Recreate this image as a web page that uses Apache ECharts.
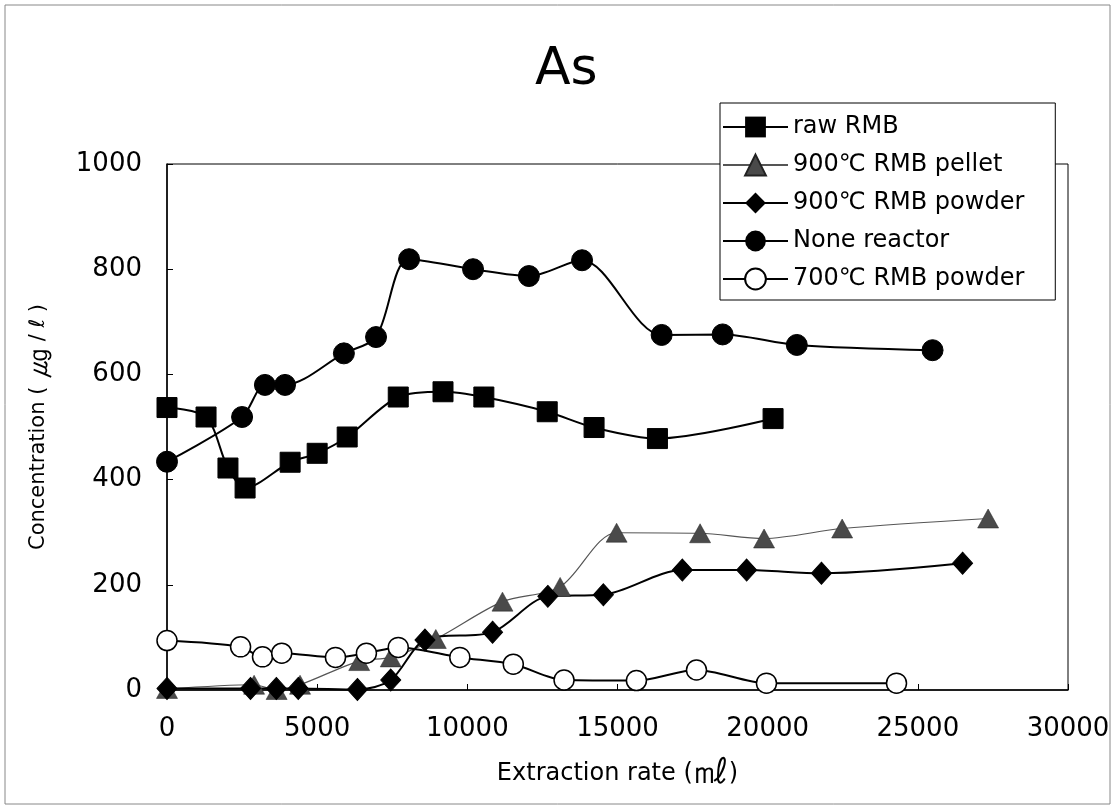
<!DOCTYPE html>
<html>
<head>
<meta charset="utf-8">
<script src="https://cdn.jsdelivr.net/npm/echarts@6/dist/echarts.min.js"></script>
<style>
html,body{margin:0;padding:0;background:#fff;}
#chart{width:1116px;height:809px;}
</style>
</head>
<body>
<div id="chart"></div>
<script>
// ---- Data ----
const seriesNames = ['raw RMB', '900\u2103 RMB pellet', '900\u2103 RMB powder', 'None reactor', '700\u2103 RMB powder'];

const rawRMB_x = [0, 1300, 2030, 2600, 4100, 5000, 6000, 7700, 9190, 10550, 12660, 14220, 16330, 20180];
const rawRMB_y = [537, 519, 422, 384, 433, 450, 481, 557, 567, 557, 529, 499, 478, 516];

const pellet900_x = [0, 2900, 3650, 4430, 6400, 7450, 8950, 11170, 13090, 14970, 17750, 19880, 22480, 27340];
const pellet900_y = [2, 10, 0, 10, 55, 62, 97, 168, 196, 299, 298, 288, 307, 326];

const powder900_x = [0, 2780, 3640, 4370, 6340, 7450, 8590, 10840, 12680, 14530, 17160, 19300, 21790, 26490];
const powder900_y = [3, 3, 3, 3, 1, 19, 95, 110, 178, 181, 228, 228, 222, 241];

const noneReactor_x = [0, 2500, 3260, 3930, 5890, 6960, 8060, 10190, 12050, 13820, 16470, 18500, 20970, 25490];
const noneReactor_y = [434, 519, 580, 580, 640, 671, 819, 800, 787, 817, 675, 676, 656, 646];

const powder700_x = [0, 2450, 3180, 3820, 5610, 6640, 7700, 9750, 11530, 13220, 15630, 17630, 19960, 24290];
const powder700_y = [94, 82, 63, 70, 62, 70, 81, 62, 49, 19, 18, 38, 13, 13];

const xTicks = [0, 5000, 10000, 15000, 20000, 25000, 30000];
const yTicks = [0, 200, 400, 600, 800, 1000];

function pairs(xs, ys) { return xs.map((x, i) => [x, ys[i]]); }

const FONT = 'DejaVu Sans';
const chart = echarts.init(document.getElementById('chart'), null, {renderer: 'canvas'});

const option = {
  backgroundColor: '#fff',
  animation: false,
  title: {
    text: 'As',
    left: 530,
    top: 39,
    textStyle: {fontFamily: FONT, fontSize: 52, fontWeight: 'normal', color: '#000'}
  },
  graphic: [{
    type: 'rect',
    shape: {x: 5, y: 5, width: 1105, height: 799},
    style: {fill: 'none', stroke: '#888', lineWidth: 1},
    silent: true, z: -10
  }],
  legend: {
    orient: 'vertical',
    left: 720,
    top: 103,
    itemWidth: 65,
    itemHeight: 26,
    itemGap: 14,
    padding: [12, 31, 9, 2],
    borderColor: '#000',
    borderWidth: 1,
    backgroundColor: '#fff',
    textStyle: {fontFamily: FONT, fontSize: 24, color: '#000'},
    data: seriesNames
  },
  grid: {
    left: 167, top: 164, right: 48, bottom: 119,
    show: true, borderColor: '#000', borderWidth: 1, backgroundColor: 'transparent'
  },
  xAxis: {
    type: 'value',
    min: xTicks[0], max: xTicks[xTicks.length - 1], interval: xTicks[1] - xTicks[0],
    name: 'Extraction rate ({u|\u3396})',
    nameLocation: 'middle',
    nameGap: 66,
    nameTextStyle: {
      fontFamily: FONT, fontSize: 24, color: '#000',
      rich: {u: {fontFamily: FONT, fontSize: 36, color: '#000'}}
    },
    axisLine: {lineStyle: {color: '#000', width: 1.5}},
    axisTick: {inside: true, length: 6, lineStyle: {color: '#000'}},
    axisLabel: {fontFamily: FONT, fontSize: 26, color: '#000', margin: 26, formatter: v => String(v)},
    splitLine: {show: false}
  },
  yAxis: {
    type: 'value',
    min: yTicks[0], max: yTicks[yTicks.length - 1], interval: yTicks[1] - yTicks[0],
    name: 'Concentration ( {u|\u338D} / \u2113 )',
    nameLocation: 'middle',
    nameGap: 112,
    nameTextStyle: {
      fontFamily: FONT, fontSize: 21, color: '#000',
      rich: {u: {fontFamily: FONT, fontSize: 32, color: '#000'}}
    },
    axisLine: {show: true, lineStyle: {color: '#000', width: 1.5}},
    axisTick: {show: true, inside: true, length: 6, lineStyle: {color: '#000'}},
    axisLabel: {fontFamily: FONT, fontSize: 26, color: '#000', margin: 25, formatter: v => String(v)},
    splitLine: {show: false}
  },
  series: [
    {
      name: seriesNames[0], type: 'line', smooth: 0.3,
      data: pairs(rawRMB_x, rawRMB_y),
      symbol: 'rect', symbolSize: 20,
      lineStyle: {color: '#000', width: 2},
      itemStyle: {color: '#000', borderColor: '#000'}
    },
    {
      name: seriesNames[1], type: 'line', smooth: 0.3,
      data: pairs(pellet900_x, pellet900_y),
      symbol: 'triangle', symbolSize: [21, 19],
      lineStyle: {color: '#555', width: 1.2},
      itemStyle: {color: '#4a4a4a', borderColor: '#222', borderWidth: 0.5}
    },
    {
      name: seriesNames[2], type: 'line', smooth: 0.3,
      data: pairs(powder900_x, powder900_y),
      symbol: 'diamond', symbolSize: [20, 22],
      lineStyle: {color: '#000', width: 2},
      itemStyle: {color: '#000', borderColor: '#000'}
    },
    {
      name: seriesNames[3], type: 'line', smooth: 0.3,
      data: pairs(noneReactor_x, noneReactor_y),
      symbol: 'circle', symbolSize: 21,
      lineStyle: {color: '#000', width: 2},
      itemStyle: {color: '#000', borderColor: '#000'}
    },
    {
      name: seriesNames[4], type: 'line', smooth: 0.3,
      data: pairs(powder700_x, powder700_y),
      symbol: 'circle', symbolSize: 20,
      lineStyle: {color: '#000', width: 2},
      itemStyle: {color: '#fff', borderColor: '#000', borderWidth: 1.5}
    }
  ]
};
chart.setOption(option);
</script>
</body>
</html>
